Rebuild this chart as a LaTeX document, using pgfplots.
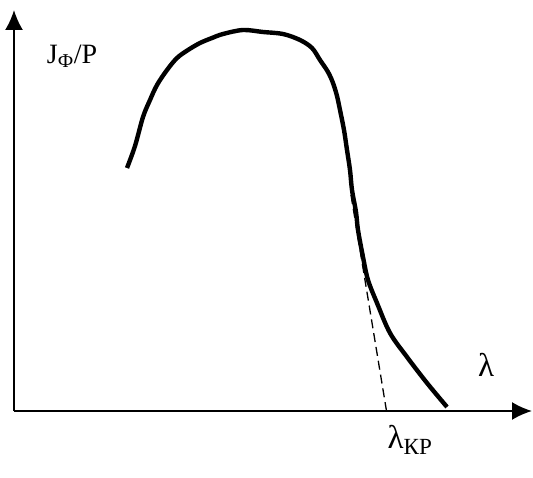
\documentclass[border=0pt]{standalone}
\usepackage{fontspec}
\setmainfont{Liberation Serif}
\usepackage{pgfplots}
\pgfplotsset{compat=1.18}
\usetikzlibrary{arrows.meta}
\begin{document}
\begin{tikzpicture}
\begin{axis}[
  scale only axis, width=533pt, height=477pt,
  xmin=-14, xmax=519, ymin=-66, ymax=411,
  hide axis, clip=false,
]
\path (axis cs:-14,-66) rectangle (axis cs:519,411);
\draw[line width=2pt,-{Latex[length=20pt,width=18pt]}] (axis cs:0,0) -- (axis cs:518,0);
\draw[line width=2pt,-{Latex[length=20pt,width=18pt]}] (axis cs:0,0) -- (axis cs:0,401);
\addplot[black, line width=4.4pt, smooth, tension=0.55] coordinates {
(113,243) (121,265) (129,294) (136,311) (143,326) (153,341) (163,353)
(174,361) (186,368) (198,373) (209,377) (229,381) (249,379) (269,377)
(286,371) (298,363) (306,351) (314,339) (319,328) (323,315) (326,301)
(330,281) (333,261) (336,241) (338,221) (342,199) (344,181) (349,154)
(354,131) (363,108) (376,78) (393,54) (413,28) (433,4)
};
\addplot[black, line width=1.3pt, dash pattern=on 9pt off 5pt] coordinates {(337,216) (373,-3)};
\node[font=\fontsize{28}{30}\selectfont] at (axis cs:58,355) {J\textsubscript{Ф}/P};
\node[font=\fontsize{33}{36}\selectfont] at (axis cs:472,46) {λ};
\node[font=\fontsize{33}{36}\selectfont] at (axis cs:396,-29) {λ\textsubscript{КР}};
\end{axis}
\end{tikzpicture}
\end{document}
